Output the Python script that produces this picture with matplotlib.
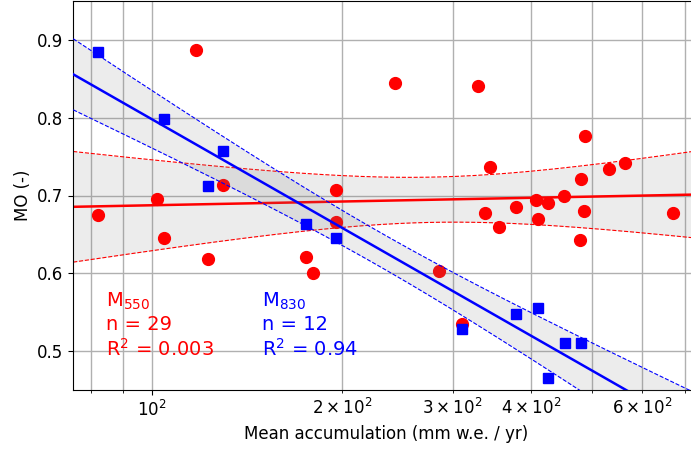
import numpy as np
import matplotlib
matplotlib.use("Agg")
import matplotlib.pyplot as plt

# M550 (red circles)
acc_550 = [82.1, 101.6, 104.4, 117.3, 122.7, 129.4, 175.2, 180.2, 195.6, 195.6,
           243.3, 285.8, 309.9, 328.5, 337.8, 343.6, 355.6, 377.7, 406.6, 409.0,
           424.9, 451.3, 477.3, 478.6, 485.2, 485.7, 530.5, 562.7, 672.4]
mo_550 = [0.675, 0.696, 0.645, 0.8875, 0.619, 0.714, 0.6215, 0.601, 0.7065, 0.666,
          0.845, 0.603, 0.5345, 0.841, 0.678, 0.736, 0.659, 0.6855, 0.6936, 0.6696,
          0.691, 0.699, 0.643, 0.721, 0.680, 0.777, 0.734, 0.742, 0.678]

# M830 (blue squares)
acc_830 = [82.1, 104.5, 122.7, 129.4, 175.2, 195.6, 309.9, 378.1, 409.0, 425.4, 451.8, 479.0]
mo_830 = [0.884, 0.798, 0.712, 0.757, 0.664, 0.645, 0.528, 0.548, 0.556, 0.465, 0.511, 0.511]

label_550 = "M$_{550}$\nn = 29\nR$^2$ = 0.003"
label_830 = "M$_{830}$\nn = 12\nR$^2$ = 0.94"

T95 = {10: 2.228, 27: 2.052}  # two-sided 95% Student t quantiles

plt.rcParams["font.size"] = 12

fig = plt.figure(figsize=(6.91, 4.51), dpi=100)
ax = fig.add_axes([73.2 / 691, 61 / 451, 626.5 / 691, 389 / 451])
ax.set_xscale("log")
xlim = (74.9, 740)
ax.set_xlim(*xlim)
ax.set_ylim(0.45, 0.95)


def fit_band(xv, yv, color, marker, ms, zo):
    x = np.asarray(xv, float)
    y = np.asarray(yv, float)
    lx = np.log10(x)
    n = len(x)
    b, a = np.polyfit(lx, y, 1)
    resid = y - (a + b * lx)
    s = np.sqrt(np.sum(resid ** 2) / (n - 2))
    sxx = np.sum((lx - lx.mean()) ** 2)
    xs = np.geomspace(xlim[0], xlim[1] * 1.1, 300)
    lxs = np.log10(xs)
    yh = a + b * lxs
    half = T95[n - 2] * s * np.sqrt(1 / n + (lxs - lx.mean()) ** 2 / sxx)
    ax.fill_between(xs, yh - half, yh + half, color="gray", alpha=0.15, lw=0, zorder=zo)
    ax.plot(xs, yh + half, "--", color=color, lw=0.8, zorder=zo + 0.1)
    ax.plot(xs, yh - half, "--", color=color, lw=0.8, zorder=zo + 0.1)
    ax.plot(xs, yh, "-", color=color, lw=1.8, zorder=zo + 0.2)
    ax.plot(x, y, marker, color=color, ms=ms, ls="none", zorder=zo + 0.3)


fit_band(acc_550, mo_550, "red", "o", 8.5, 2)
fit_band(acc_830, mo_830, "blue", "s", 7.5, 3)

ax.grid(True, which="major", color="#b0b0b0", lw=1.0)
ax.grid(True, which="minor", axis="x", color="#b0b0b0", lw=1.0)
ax.set_axisbelow(True)
ax.set_yticks([0.5, 0.6, 0.7, 0.8, 0.9])

ax.text(0.052, 0.255, label_550, color="red", fontsize=14, transform=ax.transAxes, va="top", ha="left")
ax.text(0.302, 0.255, label_830, color="blue", fontsize=14, transform=ax.transAxes, va="top", ha="left")

ax.set_xlabel("Mean accumulation (mm w.e. / yr)")
ax.set_ylabel("MO (-)")

fig.savefig("out.png", dpi=100)
